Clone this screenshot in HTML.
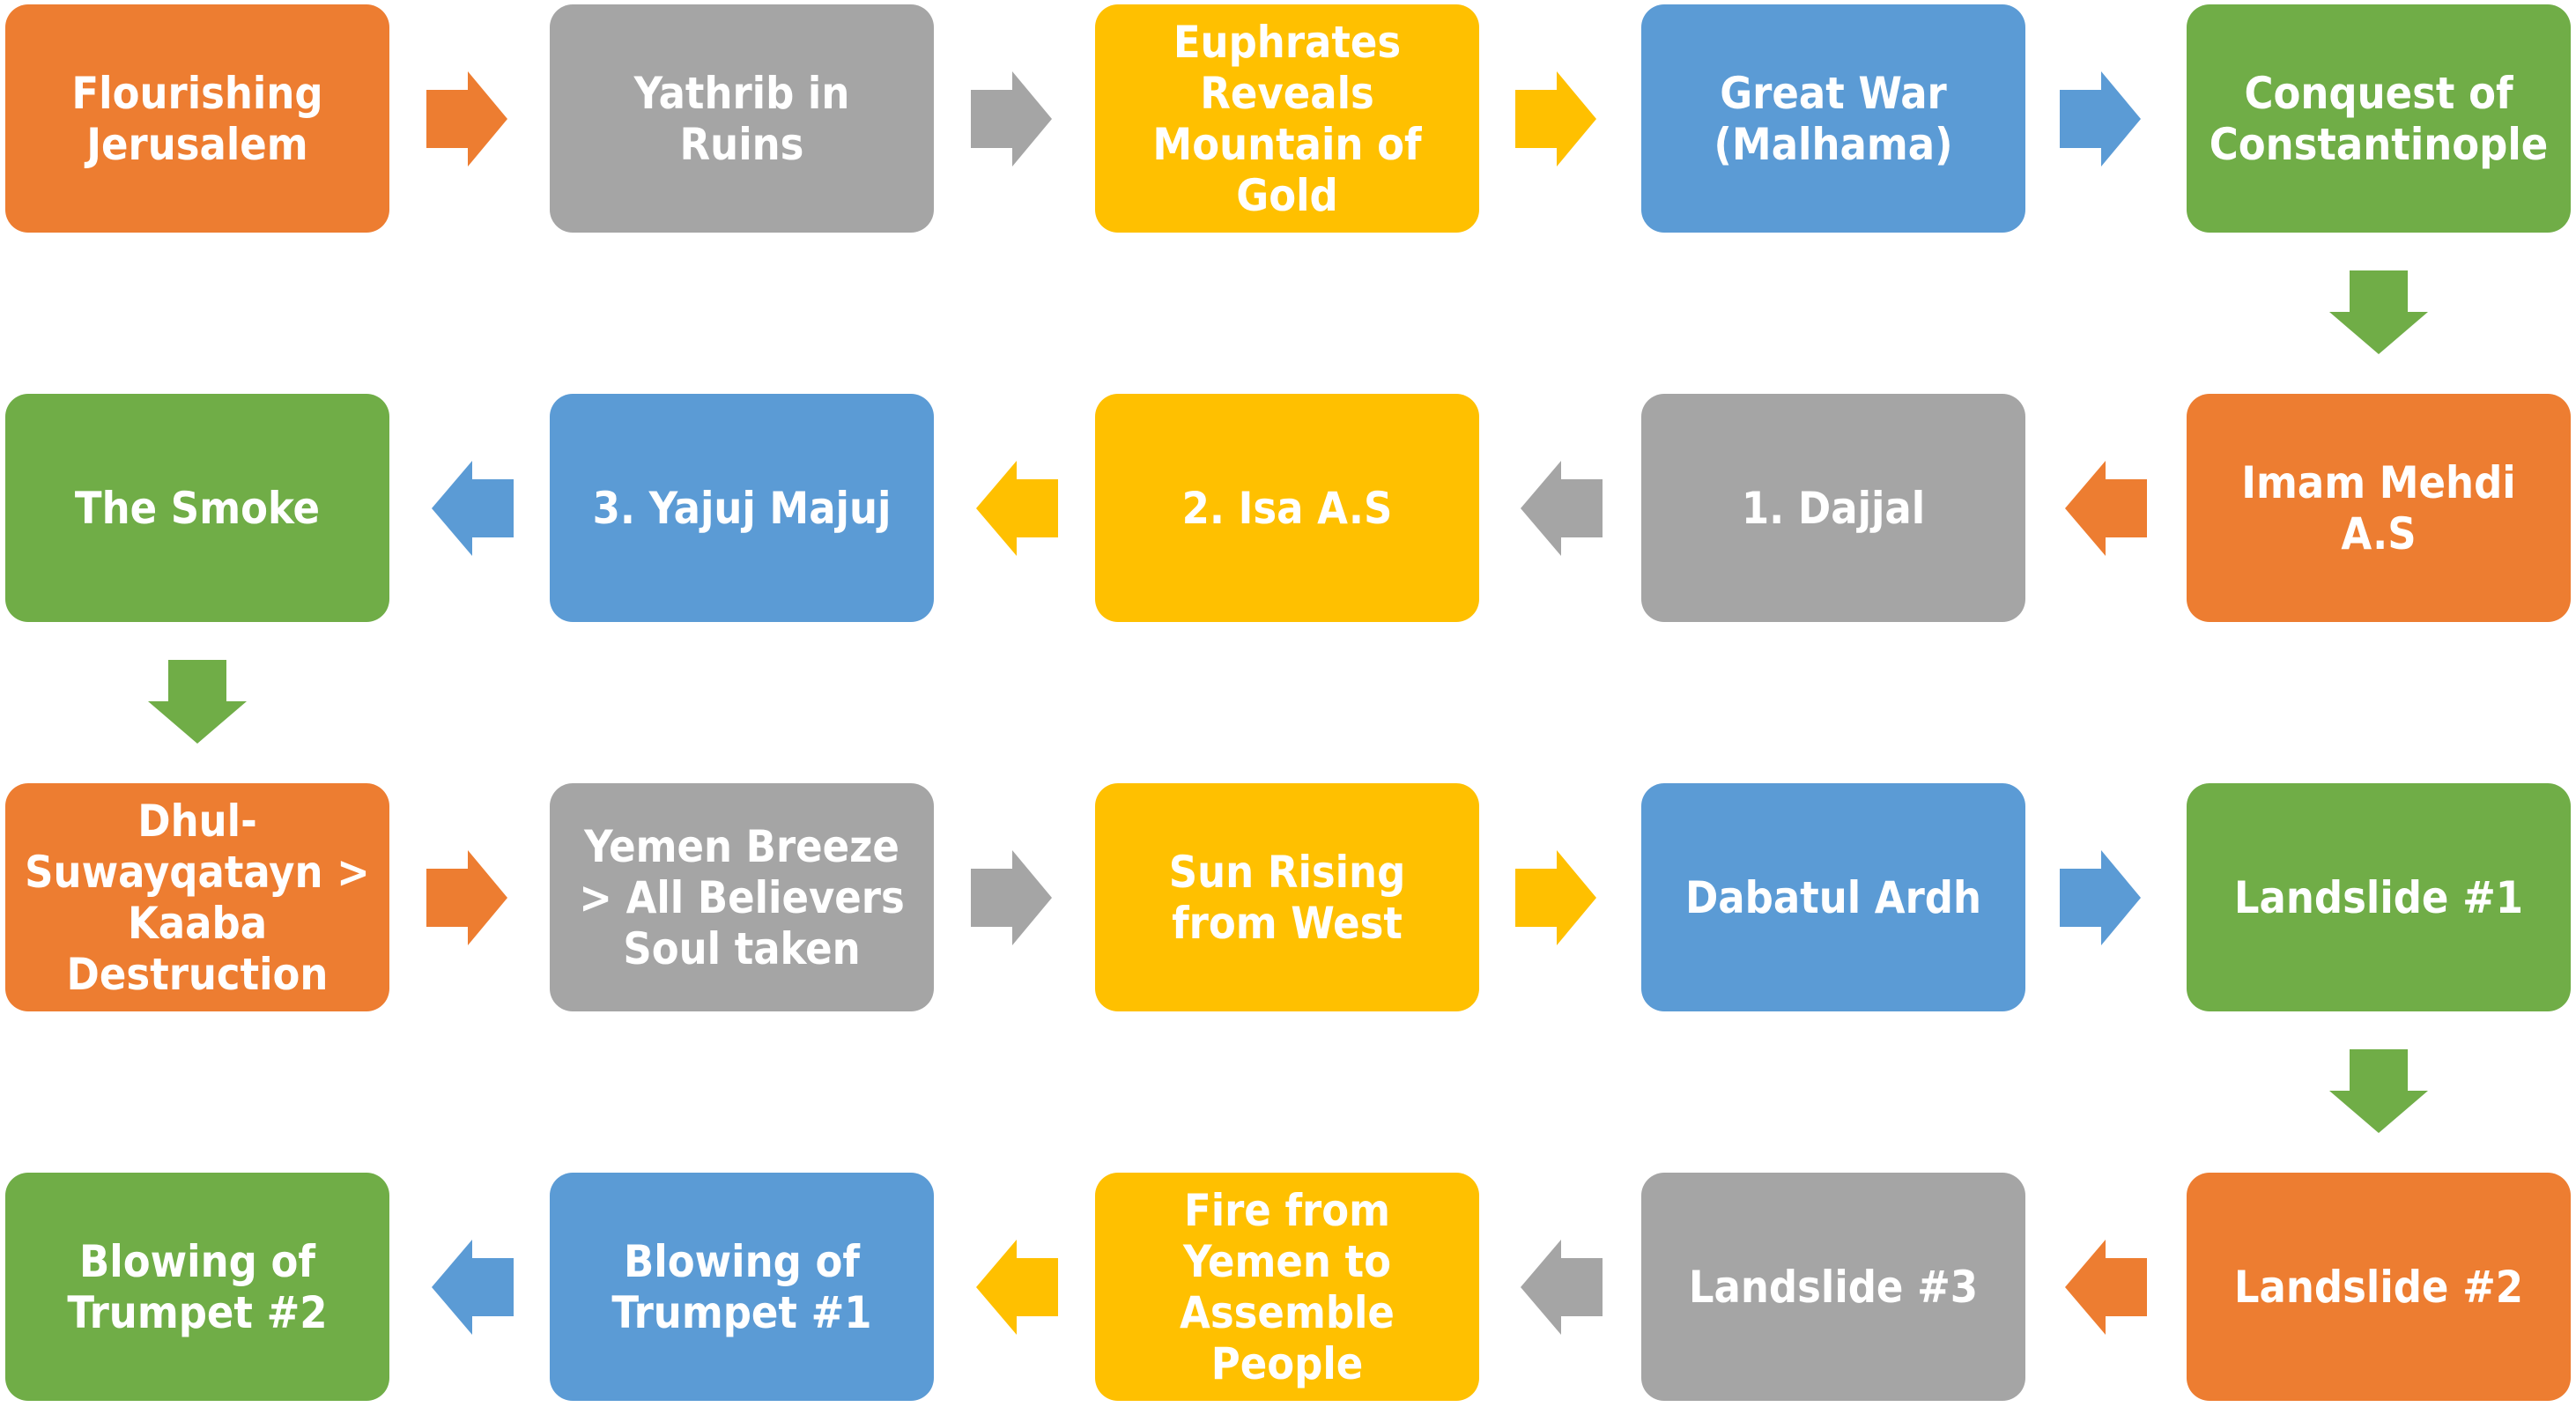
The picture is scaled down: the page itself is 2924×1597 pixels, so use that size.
<!DOCTYPE html>
<html><head><meta charset="utf-8"><style>
html,body{margin:0;padding:0;background:#fff;}
body{width:2924px;height:1597px;position:relative;overflow:hidden;}
.b{position:absolute;width:436px;height:259px;border-radius:26px;display:flex;align-items:center;justify-content:center;text-align:center;color:#fff;font-family:"DejaVu Sans Condensed","DejaVu Sans","Liberation Sans",sans-serif;font-weight:bold;font-size:50px;line-height:58px;box-sizing:border-box;padding:0 14px;}
.o{background:#ED7D31}.g{background:#A5A5A5}.y{background:#FFC000}.u{background:#5B9BD5}.n{background:#70AD47}
svg{position:absolute;left:0;top:0}
</style></head><body>
<svg width="2924" height="1597">
<g>
<polygon fill="#ED7D31" points="484,102 531,102 531,81 576,135 531,189 531,168 484,168"/>
<polygon fill="#A5A5A5" points="1102,102 1149,102 1149,81 1194,135 1149,189 1149,168 1102,168"/>
<polygon fill="#FFC000" points="1720,102 1767,102 1767,81 1812,135 1767,189 1767,168 1720,168"/>
<polygon fill="#5B9BD5" points="2338,102 2385,102 2385,81 2430,135 2385,189 2385,168 2338,168"/>
</g>
<g transform="translate(0,884)">
<polygon fill="#ED7D31" points="484,102 531,102 531,81 576,135 531,189 531,168 484,168"/>
<polygon fill="#A5A5A5" points="1102,102 1149,102 1149,81 1194,135 1149,189 1149,168 1102,168"/>
<polygon fill="#FFC000" points="1720,102 1767,102 1767,81 1812,135 1767,189 1767,168 1720,168"/>
<polygon fill="#5B9BD5" points="2338,102 2385,102 2385,81 2430,135 2385,189 2385,168 2338,168"/>
</g>
<g>
<polygon fill="#5B9BD5" points="583,544 536,544 536,523 490,577 536,631 536,610 583,610"/>
<polygon fill="#FFC000" points="1201,544 1154,544 1154,523 1108,577 1154,631 1154,610 1201,610"/>
<polygon fill="#A5A5A5" points="1819,544 1772,544 1772,523 1726,577 1772,631 1772,610 1819,610"/>
<polygon fill="#ED7D31" points="2437,544 2390,544 2390,523 2344,577 2390,631 2390,610 2437,610"/>
</g>
<g transform="translate(0,884)">
<polygon fill="#5B9BD5" points="583,544 536,544 536,523 490,577 536,631 536,610 583,610"/>
<polygon fill="#FFC000" points="1201,544 1154,544 1154,523 1108,577 1154,631 1154,610 1201,610"/>
<polygon fill="#A5A5A5" points="1819,544 1772,544 1772,523 1726,577 1772,631 1772,610 1819,610"/>
<polygon fill="#ED7D31" points="2437,544 2390,544 2390,523 2344,577 2390,631 2390,610 2437,610"/>
</g>
<polygon fill="#70AD47" points="2667,307 2733,307 2733,354 2756,354 2700,402 2644,354 2667,354"/>
<polygon fill="#70AD47" points="191,749 257,749 257,796 280,796 224,844 168,796 191,796"/>
<polygon fill="#70AD47" points="2667,1191 2733,1191 2733,1238 2756,1238 2700,1286 2644,1238 2667,1238"/>
</svg>

<div class="b o" style="left:6px;top:5px">Flourishing<br>Jerusalem</div>
<div class="b g" style="left:624px;top:5px">Yathrib in<br>Ruins</div>
<div class="b y" style="left:1243px;top:5px">Euphrates<br>Reveals<br>Mountain of<br>Gold</div>
<div class="b u" style="left:1863px;top:5px">Great War<br>(Malhama)</div>
<div class="b n" style="left:2482px;top:5px">Conquest of<br>Constantinople</div>

<div class="b n" style="left:6px;top:447px">The Smoke</div>
<div class="b u" style="left:624px;top:447px">3. Yajuj Majuj</div>
<div class="b y" style="left:1243px;top:447px">2. Isa A.S</div>
<div class="b g" style="left:1863px;top:447px">1. Dajjal</div>
<div class="b o" style="left:2482px;top:447px">Imam Mehdi<br>A.S</div>

<div class="b o" style="left:6px;top:889px">Dhul-<br>Suwayqatayn &gt;<br>Kaaba<br>Destruction</div>
<div class="b g" style="left:624px;top:889px">Yemen Breeze<br>&gt; All Believers<br>Soul taken</div>
<div class="b y" style="left:1243px;top:889px">Sun Rising<br>from West</div>
<div class="b u" style="left:1863px;top:889px">Dabatul Ardh</div>
<div class="b n" style="left:2482px;top:889px">Landslide #1</div>

<div class="b n" style="left:6px;top:1331px">Blowing of<br>Trumpet #2</div>
<div class="b u" style="left:624px;top:1331px">Blowing of<br>Trumpet #1</div>
<div class="b y" style="left:1243px;top:1331px">Fire from<br>Yemen to<br>Assemble<br>People</div>
<div class="b g" style="left:1863px;top:1331px">Landslide #3</div>
<div class="b o" style="left:2482px;top:1331px">Landslide #2</div>
</body></html>
